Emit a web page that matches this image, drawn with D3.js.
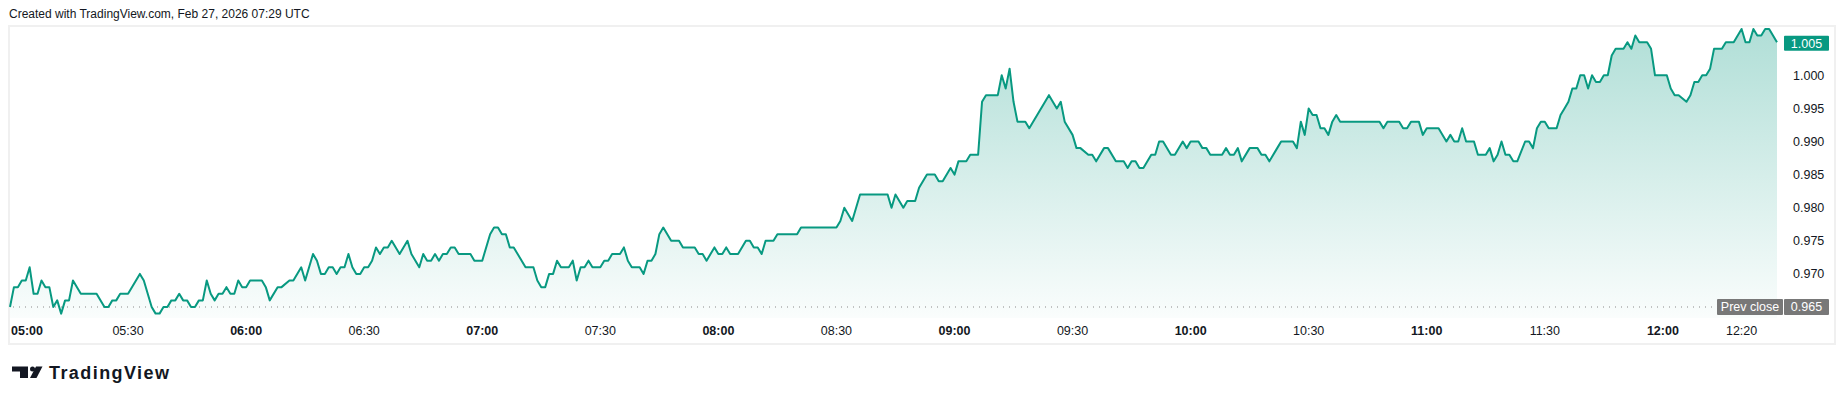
<!DOCTYPE html>
<html><head><meta charset="utf-8">
<script src="https://cdn.jsdelivr.net/npm/d3@7"></script>
<style>
html,body{margin:0;padding:0;background:#fff;}
svg{display:block;}
text{font-family:"Liberation Sans",Arial,sans-serif;}
</style></head><body>
<svg id="chart" width="1846" height="405"></svg>
<script>
// ---------- data ----------
const times = [
"05:00","05:01","05:02","05:03","05:04","05:05","05:06","05:07","05:08","05:09","05:10","05:11","05:12","05:13","05:14","05:15","05:16","05:18","05:22","05:24","05:25","05:26","05:27","05:28","05:30","05:33","05:34","05:36","05:37","05:38","05:39","05:40","05:41","05:42","05:43","05:44","05:45","05:46","05:47","05:48","05:49","05:50","05:51","05:52","05:53","05:54","05:55","05:56","05:57","05:58","05:59",
"06:00","06:01","06:04","06:05","06:06","06:08","06:09","06:11","06:12","06:14","06:15","06:17","06:18","06:19","06:20","06:21","06:22","06:23","06:24","06:25","06:26","06:27","06:28","06:29","06:30","06:31","06:32","06:33","06:34","06:35","06:36","06:37","06:39","06:41","06:42","06:44","06:45","06:46","06:47","06:48","06:49","06:50","06:51","06:52","06:53","06:54","06:57","06:58",
"07:00","07:02","07:03","07:04","07:05","07:06","07:07","07:08","07:11","07:13","07:14","07:15","07:16","07:17","07:18","07:19","07:20","07:22","07:23","07:24","07:25","07:26","07:27","07:28","07:30","07:31","07:32","07:33","07:35","07:36","07:37","07:38","07:40","07:41","07:42","07:43","07:44","07:45","07:46","07:48","07:50","07:51","07:54","07:55","07:56","07:57","07:59",
"08:00","08:01","08:02","08:03","08:05","08:07","08:08","08:09","08:10","08:11","08:12","08:14","08:15","08:20","08:21","08:30","08:31","08:32","08:34","08:36","08:43","08:44","08:45","08:47","08:48","08:50","08:51","08:53","08:55","08:56","08:57","08:59",
"09:00","09:01","09:03","09:04","09:06","09:07","09:08","09:11","09:12","09:13","09:14","09:15","09:16","09:18","09:19","09:24","09:26","09:27","09:28","09:30","09:31","09:32","09:34","09:35","09:36","09:38","09:39","09:41","09:43","09:44","09:45","09:46","09:47","09:48","09:50","09:51","09:52","09:53","09:55","09:56","09:58","09:59",
"10:00","10:02","10:03","10:04","10:05","10:08","10:09","10:10","10:11","10:12","10:13","10:15","10:17","10:18","10:19","10:20","10:22","10:23","10:26","10:27","10:28","10:29","10:30","10:31","10:32","10:33","10:34","10:35","10:36","10:37","10:38","10:48","10:49","10:50","10:53","10:54","10:55","10:56","10:58","10:59",
"11:00","11:03","11:05","11:06","11:07","11:08","11:09","11:10","11:12","11:13","11:15","11:16","11:17","11:18","11:19","11:20","11:21","11:22","11:23","11:25","11:26","11:27","11:28","11:29","11:30","11:31","11:33","11:34","11:35","11:36","11:37","11:38","11:39","11:40","11:41","11:42","11:43","11:44","11:45","11:46","11:47","11:48","11:50","11:51","11:52","11:53","11:54","11:56","11:57","11:58",
"12:01","12:02","12:03","12:04","12:06","12:07","12:08","12:09","12:10","12:11","12:12","12:13","12:15","12:16","12:18","12:20","12:21","12:22","12:23","12:24","12:25","12:26","12:27","12:29"
];
const prices = [
.965,.968,.968,.969,.969,.971,.967,.967,.969,.968,.968,.965,.966,.964,.966,.966,.969,.967,.967,.965,.965,.966,.966,.967,.967,.970,.969,.965,.964,.964,.965,.965,.966,.966,.967,.966,.966,.965,.965,.966,.966,.969,.967,.966,.967,.967,.968,.967,.967,.969,.968,
.968,.969,.969,.968,.966,.968,.968,.969,.969,.971,.969,.973,.972,.970,.970,.971,.971,.970,.971,.971,.973,.971,.970,.970,.971,.971,.972,.974,.973,.974,.974,.975,.973,.975,.973,.971,.973,.972,.972,.973,.972,.973,.973,.974,.974,.973,.973,.972,
.972,.976,.977,.977,.976,.976,.974,.974,.971,.971,.969,.968,.968,.970,.970,.972,.971,.971,.972,.969,.971,.971,.972,.971,.971,.972,.972,.973,.973,.974,.972,.971,.971,.970,.972,.972,.973,.976,.977,.975,.975,.974,.974,.973,.973,.972,.974,
.973,.973,.974,.973,.973,.975,.975,.974,.974,.973,.975,.975,.976,.976,.977,.977,.978,.980,.978,.982,.982,.980,.982,.980,.981,.981,.983,.985,.985,.984,.984,.986,
.985,.987,.987,.988,.988,.996,.997,.997,1.000,.998,1.001,.996,.993,.993,.992,.997,.995,.996,.993,.991,.989,.989,.988,.988,.987,.989,.989,.987,.987,.986,.987,.987,.986,.986,.988,.988,.990,.990,.988,.988,.990,.989,
.990,.990,.989,.989,.988,.988,.989,.988,.988,.989,.987,.989,.989,.988,.988,.987,.989,.990,.990,.989,.993,.991,.995,.994,.994,.992,.992,.991,.993,.994,.993,.993,.992,.993,.993,.992,.992,.993,.993,.991,
.992,.992,.990,.991,.990,.990,.992,.990,.990,.988,.988,.989,.987,.988,.990,.988,.988,.987,.987,.990,.990,.989,.992,.993,.993,.992,.992,.994,.995,.996,.998,.998,1.000,1.000,.998,1.000,.999,.999,1.000,1.000,1.003,1.004,1.004,1.005,1.004,1.006,1.005,1.005,1.004,1.000,
1.000,.998,.997,.997,.996,.997,.999,.999,1.000,1.000,1.001,1.004,1.004,1.005,1.005,1.007,1.005,1.005,1.007,1.006,1.006,1.007,1.007,1.005
];
const timeTicks = ["05:00","05:30","06:00","06:30","07:00","07:30","08:00","08:30","09:00","09:30","10:00","10:30","11:00","11:30","12:00","12:20"];
const priceTicks = [0.970, 0.975, 0.980, 0.985, 0.990, 0.995, 1.000];
const prevClose = 0.965;
const titleText = "Created with TradingView.com, Feb 27, 2026 07:29 UTC";
const brandText = "TradingView";

// ---------- layout ----------
const GREEN = "#089981", INK = "#131722", GREY = "#787878";
const plot = {left: 10, right: 1777, top: 27, bottom: 318};
const parse = d3.timeParse("%H:%M");
const fmtT = d3.timeFormat("%H:%M");
const data = times.map((t, i) => ({t: parse(t), v: prices[i]}));

const svg = d3.select("#chart");

const x = d3.scaleTime()
  .domain([parse("05:00"), parse("12:29")])
  .range([plot.left, plot.right]);
const y = d3.scaleLinear()
  .domain([0.965, 1.000])
  .range([307, 75.3]);

// title
svg.append("text").attr("x", 9).attr("y", 18)
  .attr("font-size", 12).attr("fill", INK).text(titleText);

// frame
svg.append("rect").attr("x", 9).attr("y", 26).attr("width", 1826).attr("height", 318)
  .attr("fill", "#fff").attr("stroke", "#f0f0f0").attr("stroke-width", 2);

// gradient
const defs = svg.append("defs");
const grad = defs.append("linearGradient").attr("id", "areaGrad")
  .attr("gradientUnits", "userSpaceOnUse")
  .attr("x1", 0).attr("x2", 0).attr("y1", plot.top).attr("y2", plot.bottom);
grad.append("stop").attr("offset", 0).attr("stop-color", GREEN).attr("stop-opacity", 0.32);
grad.append("stop").attr("offset", 1).attr("stop-color", GREEN).attr("stop-opacity", 0.02);

const area = d3.area().x(d => x(d.t)).y0(plot.bottom).y1(d => y(d.v));
const line = d3.line().x(d => x(d.t)).y(d => y(d.v));

svg.append("path").datum(data).attr("d", area).attr("fill", "url(#areaGrad)");

// prev close dotted line
svg.append("line")
  .attr("x1", plot.left + 3).attr("x2", 1716)
  .attr("y1", y(prevClose)).attr("y2", y(prevClose))
  .attr("stroke", "#8a8a8a").attr("stroke-width", 1)
  .attr("stroke-dasharray", "1 5");

svg.append("path").datum(data).attr("d", line)
  .attr("fill", "none").attr("stroke", GREEN).attr("stroke-width", 2)
  .attr("stroke-linejoin", "round");

// price axis labels
const yAxis = svg.append("g");
yAxis.selectAll("text").data(priceTicks).join("text")
  .attr("x", 1793).attr("y", d => y(d)).attr("dy", "0.35em")
  .attr("font-size", 12.5).attr("fill", INK)
  .text(d => d3.format(".3f")(d));

// last price badge
const last = data[data.length - 1];
svg.append("rect").attr("x", 1784).attr("y", y(last.v) - 7.5 + 1).attr("width", 45).attr("height", 15)
  .attr("rx", 1).attr("fill", GREEN);
svg.append("text").attr("x", 1806.5).attr("y", y(last.v) + 1).attr("dy", "0.35em")
  .attr("text-anchor", "middle").attr("font-size", 12.5).attr("fill", "#fff")
  .text(d3.format(".3f")(last.v));

// prev close badges
svg.append("rect").attr("x", 1717).attr("y", y(prevClose) - 8).attr("width", 66).attr("height", 16)
  .attr("rx", 1).attr("fill", GREY);
svg.append("text").attr("x", 1750).attr("y", y(prevClose)).attr("dy", "0.35em")
  .attr("text-anchor", "middle").attr("font-size", 12.5).attr("fill", "#fff").text("Prev close");
svg.append("rect").attr("x", 1784).attr("y", y(prevClose) - 8).attr("width", 45).attr("height", 16)
  .attr("rx", 1).attr("fill", GREY);
svg.append("text").attr("x", 1806.5).attr("y", y(prevClose)).attr("dy", "0.35em")
  .attr("text-anchor", "middle").attr("font-size", 12.5).attr("fill", "#fff")
  .text(d3.format(".3f")(prevClose));

// time axis labels
const xAxis = svg.append("g");
xAxis.selectAll("text").data(timeTicks).join("text")
  .attr("x", d => x(parse(d)) + (d === timeTicks[0] ? 1 : 0))
  .attr("y", 331).attr("dy", "0.35em")
  .attr("text-anchor", d => d === timeTicks[0] ? "start" : "middle")
  .attr("font-size", 12.5).attr("fill", INK)
  .attr("font-weight", d => (d.endsWith(":00")) ? "bold" : "normal")
  .text(d => fmtT(parse(d)));

// brand logo
const logo = svg.append("g").attr("fill", INK);
logo.append("path").attr("d", "M12,366.5 L28,366.5 L28,378 L20,378 L20,371.5 L12,371.5 Z");
logo.append("circle").attr("cx", 32.5).attr("cy", 369).attr("r", 2.5);
logo.append("path").attr("d", "M36,366.5 L42.5,366.5 L36.5,378 L30,378 Z");
svg.append("text").attr("x", 49).attr("y", 379)
  .attr("font-family", "'Open Sans', 'Noto Sans', sans-serif")
  .attr("font-size", 18).attr("font-weight", 700).attr("fill", INK)
  .attr("textLength", 120).attr("lengthAdjust", "spacing")
  .text(brandText);
</script>
</body></html>
